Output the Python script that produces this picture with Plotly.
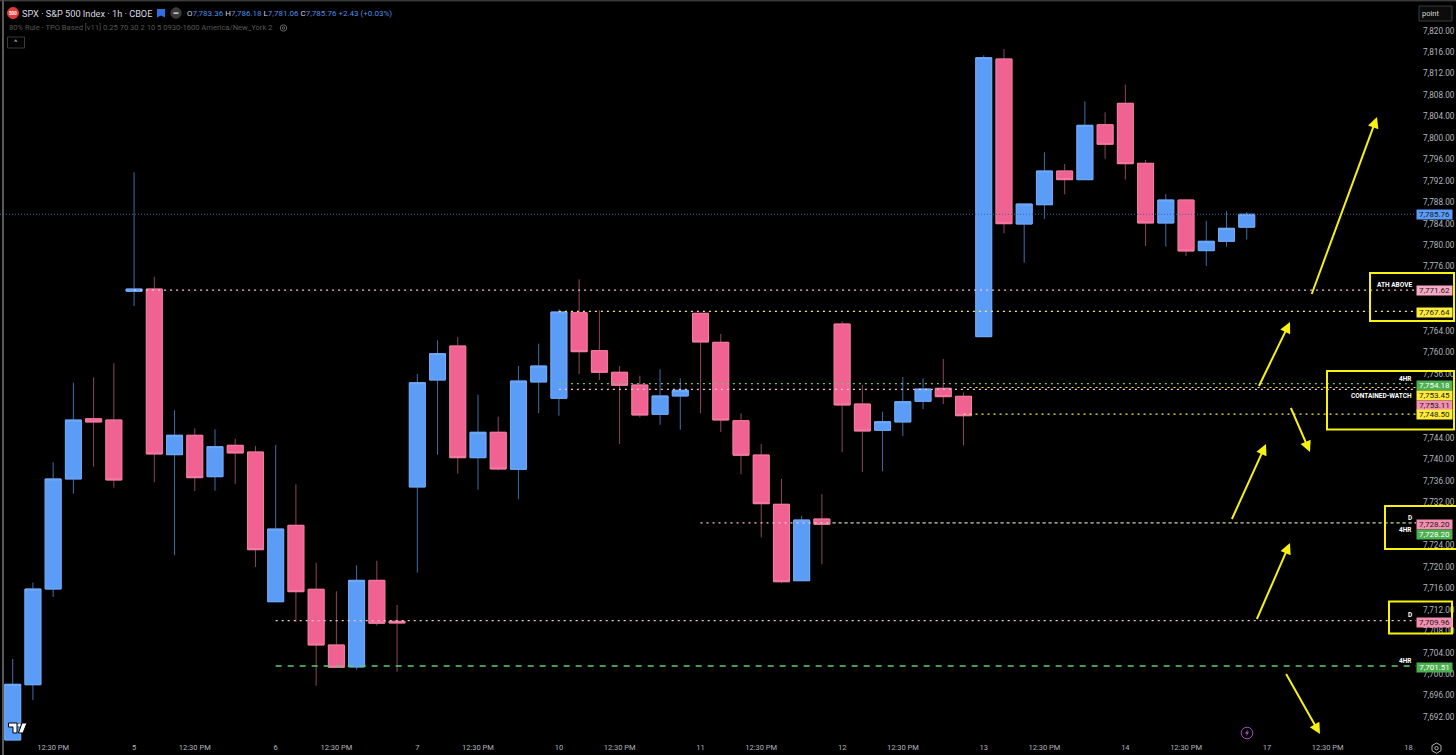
import plotly.graph_objects as go

# ---------- chart data ----------
opens = [7687.71,7698.02,7715.87,7736.39,7747.63,7747.39,7771.39,7771.82,7740.92,7744.54,7736.82,7742.67,7741.42,7713.50,7727.75,7715.82,7705.43,7701.33,7717.49,7709.85,
         7734.90,7754.85,7761.19,7740.36,7745.10,7738.20,7754.48,7751.44,7767.40,7760.32,7756.29,7753.92,7748.45,7751.87,7767.29,7761.88,7747.26,7740.86,7731.67,7717.42,7728.93,
         7765.29,7750.37,7745.47,7747.02,7750.88,7753.30,7751.81,7762.93,7814.72,7783.94,7787.54,7793.83,7792.21,7802.46,7806.45,7795.26,7784.13,7788.42,7778.97,7780.72,7783.36]
highs = [7702.82,7717.05,7739.50,7754.35,7755.35,7757.97,7793.59,7774.12,7749.20,7745.84,7745.66,7743.90,7742.54,7742.73,7735.40,7720.78,7715.44,7720.29,7721.15,7712.89,
         7755.97,7762.25,7762.87,7752.11,7748.01,7757.46,7761.62,7768.04,7773.63,7767.85,7757.46,7755.65,7756.85,7755.17,7767.40,7763.43,7748.64,7742.91,7736.39,7729.49,7733.59,
         7765.80,7753.92,7748.94,7755.41,7755.17,7758.77,7752.48,7815.41,7816.58,7787.67,7797.32,7795.13,7806.83,7804.78,7809.92,7795.88,7789.54,7788.55,7784.56,7786.31,7786.18]
lows = [7687.71,7695.17,7714.38,7733.65,7738.68,7734.76,7768.65,7735.77,7722.16,7734.15,7734.20,7735.45,7719.98,7713.50,7709.72,7697.84,7701.27,7700.82,7709.03,7700.45,
        7718.91,7740.92,7737.38,7734.39,7738.01,7732.60,7748.64,7748.19,7755.97,7754.85,7742.91,7747.89,7746.51,7745.58,7748.64,7745.15,7737.26,7725.51,7716.94,7717.42,7720.48,
        7741.37,7737.69,7737.82,7744.41,7749.44,7750.37,7742.67,7762.93,7782.21,7776.73,7784.88,7789.48,7792.21,7796.12,7792.21,7779.84,7779.71,7777.98,7776.11,7779.71,7781.06]
closes = [7698.10,7715.87,7736.39,7747.39,7747.02,7736.20,7771.82,7741.05,7744.54,7736.63,7742.41,7741.24,7723.20,7727.06,7715.37,7705.43,7701.27,7717.49,7709.48,7709.53,
          7754.35,7759.76,7740.36,7745.10,7738.25,7754.66,7757.46,7767.53,7760.13,7756.29,7753.86,7748.32,7751.87,7752.93,7761.94,7747.39,7740.81,7731.78,7717.23,7728.74,7727.94,
          7750.19,7745.34,7747.07,7750.80,7753.17,7751.74,7748.19,7814.96,7784.00,7787.67,7793.83,7792.21,7802.35,7798.81,7795.19,7784.13,7788.42,7778.91,7780.72,7783.14,7785.76]

date_tick_bars = [2,6,9,13,16,20,23,27,30,34,37,41,44,48,51,55,58,62,65,69]
date_tick_text = ["12:30 PM","5","12:30 PM","6","12:30 PM","7","12:30 PM","10","12:30 PM","11",
                  "12:30 PM","12","12:30 PM","13","12:30 PM","14","12:30 PM","17","12:30 PM","18"]
# price ticks every 4 points; those fully covered by a price tag in the reference are left out
price_ticks = [7692,7696,7700,7704,7708,7712,7716,7720,7724,7732,7736,7740,7744,7756,7760,7764,
               7776,7780,7784,7788,7792,7796,7800,7804,7808,7812,7816,7820]

level_values = [7771.62,7767.64,7754.18,7753.45,7753.11,7748.50,7728.20,7728.20,7709.96,7701.51]
level_start_bars = [6,27,27,47,27,47,34,40,13,13]
level_kinds = ["pink","yellow","green","yellow","pink","yellow","pink","green","pink","green_dash"]
last_price = 7785.76

# ---------- pixel helpers for the overlay drawings ----------
W, H = 1456, 755
PLOT_W, PLOT_H = 1416, 741
BAR0_PX, BAR_PX = 12.7, 20.23
PX_PER_PT, Y_REF_PX, Y_REF = 5.362, 717.0, 7692.0
def bar_at(px): return (px - BAR0_PX) / BAR_PX
def price_at(py): return Y_REF + (Y_REF_PX - py) / PX_PER_PT
def fx(px): return px / PLOT_W
def fy(py): return 1 - py / PLOT_H

x_range = [bar_at(0), bar_at(PLOT_W)]
y_range = [price_at(PLOT_H), price_at(0)]
bars = list(range(len(opens)))

BLUE, PINK = "#5b9cf6", "#f06292"
BLUE_EDGE, PINK_EDGE = "#74abf8", "#f57ea6"
BLUE_WICK, PINK_WICK = "#3f6ea8", "#8f4560"
YEL = "#f7f10f"
LEVEL_STYLE = {"pink": ("#f8c4d6", "2px,4px", 1.2), "yellow": ("#fff04a", "2px,4px", 1.2),
               "green": ("#6fbf73", "2px,4px", 1.2), "green_dash": ("#5ecb6b", "6px,6px", 1.3)}

fig = go.Figure()

# last price line and level lines
fig.add_trace(go.Scatter(x=x_range, y=[last_price, last_price], mode="lines",
                         line=dict(color="#3a66a8", width=1, dash="1px,2px"), hoverinfo="skip"))
for v, s, k in zip(level_values, level_start_bars, level_kinds):
    c, d, w = LEVEL_STYLE[k]
    fig.add_trace(go.Scatter(x=[s, x_range[1]], y=[v, v], mode="lines",
                             line=dict(color=c, width=w, dash=d), hoverinfo="skip"))

# wicks (dim), then bodies (bright)
fig.add_trace(go.Candlestick(x=bars, open=opens, high=highs, low=lows, close=closes, whiskerwidth=0,
                             increasing=dict(line=dict(color=BLUE_WICK, width=1), fillcolor=BLUE),
                             decreasing=dict(line=dict(color=PINK_WICK, width=1), fillcolor=PINK)))
body_hi = [max(o, c) for o, c in zip(opens, closes)]
body_lo = [min(o, c) for o, c in zip(opens, closes)]
fig.add_trace(go.Candlestick(x=bars, open=opens, high=body_hi, low=body_lo, close=closes, whiskerwidth=0,
                             increasing=dict(line=dict(color=BLUE_EDGE, width=1), fillcolor=BLUE),
                             decreasing=dict(line=dict(color=PINK_EDGE, width=1), fillcolor=PINK)))

ann = []
shapes = []

def text(px, py, s, size=8.5, color="#d1d4dc", xanchor="left", family="Roboto", **kw):
    ann.append(dict(x=fx(px), y=fy(py), xref="paper", yref="paper", text=s, showarrow=False,
                    xanchor=xanchor, yanchor="middle", align="left",
                    font=dict(size=size, color=color, family=family), borderpad=0, **kw))

def rect(x0, y0, x1, y1, color, width=1, fill=None):
    shapes.append(dict(type="rect", xref="paper", yref="paper", x0=fx(x0), x1=fx(x1), y0=fy(y0), y1=fy(y1),
                       line=dict(color=color, width=width), fillcolor=fill or "rgba(0,0,0,0)"))

def circle(cx, cy, r, color, fill=None, width=1):
    shapes.append(dict(type="circle", xref="paper", yref="paper", x0=fx(cx-r), x1=fx(cx+r), y0=fy(cy-r), y1=fy(cy+r),
                       line=dict(color=color, width=width), fillcolor=fill or "rgba(0,0,0,0)"))

def poly(points, fill, line="rgba(0,0,0,0)", width=0):
    path = "M " + " L ".join(f"{fx(a):.5f} {fy(b):.5f}" for a, b in points) + " Z"
    shapes.append(dict(type="path", xref="paper", yref="paper", path=path, fillcolor=fill, line=dict(color=line, width=width)))

# price tags
def tag(py, s, bg, fg="#1a1a1a"):
    ann.append(dict(x=fx(1434.5), y=fy(py), xref="paper", yref="paper", text=s, showarrow=False,
                    xanchor="center", yanchor="middle", width=35, height=9.4, bgcolor=bg, borderpad=0,
                    font=dict(size=8, color=fg, family="Roboto")))
TAG_PINK, TAG_YEL, TAG_GRN = "#f48fb1", "#fdeb3b", "#4caf50"
tag(214.8, "7,785.76", BLUE)
tag(290.7, "7,771.62", "#f8a9c6")
tag(312.3, "7,767.64", TAG_YEL)
tag(385, "7,754.18", TAG_GRN, "#ffffff")
tag(395, "7,753.45", TAG_YEL)
tag(405, "7,753.11", TAG_PINK)
tag(415, "7,748.50", TAG_YEL)
tag(524, "7,728.20", TAG_PINK)
tag(534.3, "7,728.20", TAG_GRN, "#ffffff")
tag(622, "7,709.96", TAG_PINK)
tag(667, "7,701.51", TAG_GRN, "#ffffff")

# right aligned level captions
for py, s in [(284.5, "ATH ABOVE"), (378.7, "4HR"), (396, "CONTAINED-WATCH"), (518, "D"), (530, "4HR"), (615, "D"), (661, "4HR")]:
    text(1412.5, py, "<b>" + s + "</b>", size=6.5, color="#ffffff", xanchor="right")

# yellow annotation boxes
rect(1370, 273, 1454, 321, YEL, 2)
rect(1327, 371, 1454, 429.5, YEL, 2)
rect(1385, 506, 1457, 549, YEL, 2)
rect(1389, 601.5, 1452, 633.5, YEL, 2)

# yellow arrows
for tx, ty, hx, hy in [(1311, 296, 1377, 117), (1258, 388, 1290, 322), (1290, 406, 1310, 452),
                       (1231, 521, 1266, 444), (1256, 621, 1290, 543), (1285, 672, 1320, 734)]:
    ann.append(dict(x=bar_at(hx), y=price_at(hy), ax=bar_at(tx), ay=price_at(ty), xref="x", yref="y", axref="x", ayref="y",
                    text=" ", font=dict(size=1), showarrow=True, arrowhead=2, arrowsize=1.1, arrowwidth=2, arrowcolor=YEL))

# header
circle(13, 13, 5.5, "#e53935", "#e53935")
text(13, 13.2, "<b>500</b>", size=4.5, color="#ffffff", xanchor="center")
text(20.5, 13, "SPX · S&P 500 Index · 1h · CBOE", size=9.2, color="#d9dbe0")
poly([(157, 9), (165, 9), (165, 17.5), (161, 15.5), (157, 17.5)], "#2f6fe0")
circle(176, 13, 5.2, "#3a3a3a", "#3a3a3a")
rect(173.5, 12.4, 178.5, 13.8, "#e0e0e0", 0, "#e0e0e0")
V = '<span style="color:#4f8fe6">%s</span>'
text(186, 13.2, "O" + V % "7,783.36" + " H" + V % "7,786.18" + " L" + V % "7,781.06" + " C" + V % "7,785.76" + " " + V % "+2.43 (+0.03%)", size=8)
text(8, 27.5, "80% Rule - TPO Based [v11] 0.25 70 30 2 10 5 0930-1600 America/New_York 2", size=7.6, color="#565656")
circle(283.5, 28, 3.2, "#666666")
circle(283.5, 28, 1.2, "#666666")
rect(7.5, 37, 24.5, 48, "#3a3a3a", 1)
text(16, 42.6, "^", size=8, color="#c8c8c8", xanchor="center")
rect(1419, 6, 1452, 21, "#3a3a3a", 1, "#0c0c0c")
text(1421, 13.8, "point", size=7.5, color="#d8d8d8")

# TradingView logo
poly([(8.5, 723), (17, 723), (17, 733), (13, 733), (13, 727), (8.5, 727)], "#ffffff", "#000000", 1)
circle(19.3, 725.2, 1.9, "#000000", "#ffffff", 0.5)
poly([(22, 723), (27, 723), (23, 733), (18.5, 733)], "#ffffff", "#000000", 1)

# lightning badge and gear
circle(1247, 733, 5.8, "#a04bc0", "rgba(0,0,0,0)", 1)
poly([(1248, 729.5), (1245, 733.5), (1247, 733.5), (1246, 736.5), (1249, 732.3), (1247.2, 732.3)], "#b058d0")
poly([(1436.5, 743), (1441, 745.6), (1441, 750.7), (1436.5, 753.3), (1432, 750.7), (1432, 745.6)], "rgba(0,0,0,0)", "#b0b0b0", 1)
circle(1436.5, 748.2, 1.7, "#b0b0b0")

# frame
shapes.append(dict(type="line", xref="paper", yref="paper", x0=fx(3), x1=fx(3), y0=fy(0), y1=fy(755), line=dict(color="#777777", width=1.5)))
shapes.append(dict(type="line", xref="paper", yref="paper", x0=0, x1=fx(1456), y0=fy(0.8), y1=fy(0.8), line=dict(color="#555555", width=1)))

fig.update_layout(
    width=W, height=H, margin=dict(l=0, r=W - PLOT_W, t=0, b=H - PLOT_H),
    paper_bgcolor="#000000", plot_bgcolor="#000000", showlegend=False,
    boxgap=0.21, boxgroupgap=0, hovermode=False,
    annotations=ann, shapes=shapes,
    font=dict(family="Roboto", color="#b2b5be", size=8.5),
    xaxis=dict(range=x_range, rangeslider=dict(visible=False), showgrid=False, zeroline=False, showline=False, ticks="",
               tickmode="array", tickvals=date_tick_bars, ticktext=date_tick_text, tickangle=0,
               tickfont=dict(size=7.5, color="#b2b5be", family="Roboto")),
    yaxis=dict(range=y_range, side="right", showgrid=False, zeroline=False, showline=False, ticks="",
               tickmode="array", tickvals=price_ticks, ticktext=[f"{v:,.2f}" for v in price_ticks], ticklabelstandoff=6,
               tickfont=dict(size=8.2, color="#b2b5be", family="Roboto")),
)

fig.write_html("out.html", config=dict(displayModeBar=False),
               post_script="document.body.style.margin='0';document.body.style.background='#000';document.body.style.overflow='hidden';")
